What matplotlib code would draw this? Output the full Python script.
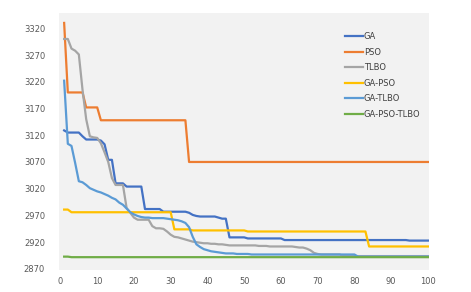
import matplotlib
matplotlib.use("Agg")
import matplotlib.pyplot as plt

iterations = list(range(1, 101))

ga = ([3129, 3125, 3125, 3125, 3125, 3118, 3112, 3112, 3112, 3112,
       3110, 3103, 3074, 3074, 3030, 3030, 3030, 3024, 3024, 3024,
       3024, 3024, 2982, 2982, 2982, 2982, 2982, 2977, 2977, 2977,
       2977, 2977, 2977, 2977, 2975, 2971, 2969, 2968, 2968, 2968,
       2968, 2968, 2966, 2964, 2964, 2929, 2929, 2929, 2929, 2929]
      + [2927] * 10 + [2924] * 34 + [2923] * 6)

pso = [3330] + [3200] * 5 + [3172] * 4 + [3148] * 24 + [3070] * 66

tlbo = ([3300, 3300, 3282, 3278, 3271, 3205, 3150, 3118, 3116, 3115,
         3105, 3088, 3070, 3040, 3027, 3027, 3027, 2984, 2975, 2966,
         2962, 2962, 2962, 2962, 2950, 2946, 2946, 2945, 2940, 2934,
         2930, 2929, 2927, 2925, 2923, 2921, 2920, 2919, 2918, 2918,
         2917, 2917, 2916, 2916, 2915, 2914, 2914, 2914, 2914, 2914,
         2914, 2914, 2914, 2913, 2913, 2913, 2912, 2912, 2912, 2912,
         2912, 2912, 2912, 2911, 2910, 2910, 2908, 2905, 2900, 2898]
        + [2897] * 6 + [2894] * 24)

ga_pso = ([2981, 2981] + [2976] * 28 + [2944] * 5 + [2942] * 15
          + [2940] * 33 + [2912] * 17)

ga_tlbo = ([3222, 3104, 3100, 3068, 3034, 3032, 3027, 3021, 3018, 3015,
            3013, 3010, 3007, 3003, 3000, 2994, 2990, 2983, 2976, 2972,
            2969, 2967, 2966, 2966, 2965, 2965, 2965, 2965, 2964, 2963,
            2962, 2961, 2959, 2956, 2948, 2930, 2916, 2911, 2907, 2905,
            2903, 2902, 2901, 2900, 2899, 2899, 2899, 2898, 2898, 2898,
            2898] + [2897] * 29 + [2893] * 20)

ga_pso_tlbo = [2893, 2893] + [2892] * 98

series = [
    ("GA", ga, "#4472C4"),
    ("PSO", pso, "#ED7D31"),
    ("TLBO", tlbo, "#A5A5A5"),
    ("GA-PSO", ga_pso, "#FFC000"),
    ("GA-TLBO", ga_tlbo, "#5B9BD5"),
    ("GA-PSO-TLBO", ga_pso_tlbo, "#70AD47"),
]

fig = plt.figure(figsize=(4.71, 2.92), dpi=100)
ax = fig.add_axes([59 / 471, 22 / 292, 370 / 471, 256.7 / 292])
ax.set_facecolor("#F2F2F2")

for name, vals, col in series:
    ax.plot(iterations, vals, color=col, lw=1.6, label=name)

ax.set_xlim(-0.4, 100.3)
ax.set_ylim(2868, 3348)
ax.set_xticks(range(0, 101, 10))
ax.set_yticks(range(2870, 3321, 50))
for s in ax.spines.values():
    s.set_visible(False)
ax.tick_params(length=0, labelsize=6, colors="#595959")
ax.tick_params(axis="y", pad=10)
ax.tick_params(axis="x", pad=5)

ax.legend(loc="upper left", bbox_to_anchor=(0.773, 0.927), frameon=False,
          fontsize=6, handlelength=2.1, handletextpad=0.15,
          labelspacing=0.78, borderpad=0, borderaxespad=0,
          labelcolor="#404040")

fig.savefig("out.png", dpi=100, facecolor="white")
